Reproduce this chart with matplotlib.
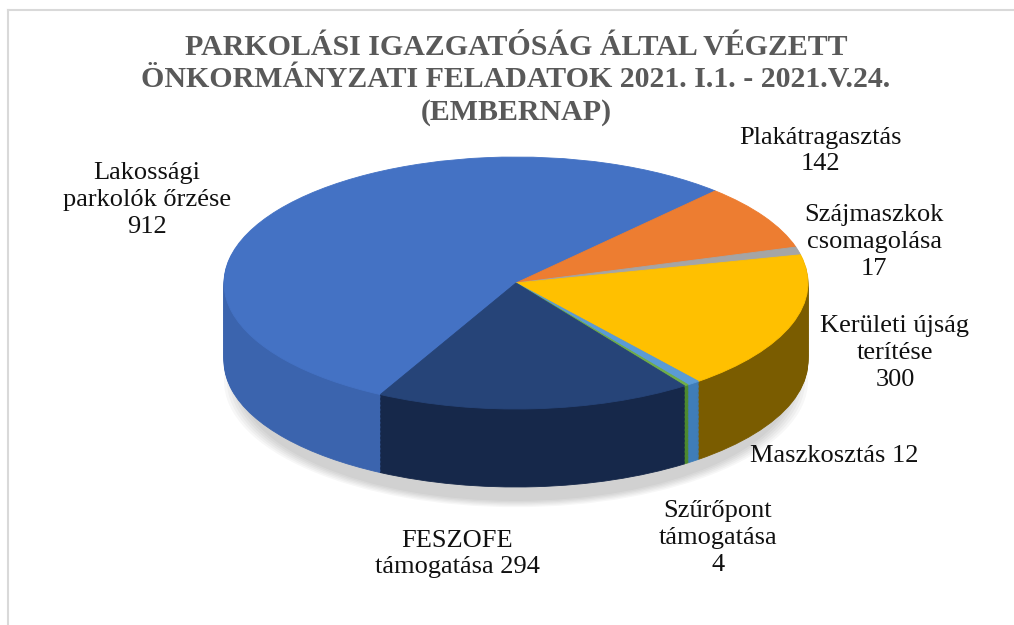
import matplotlib
matplotlib.use("Agg")
import matplotlib.pyplot as plt
from matplotlib.lines import Line2D

# ---- data ----
categories = ["Lakossági\nparkolók őrzése", "Plakátragasztás", "Szájmaszkok\ncsomagolása",
              "Kerületi újság\nterítése", "Maszkosztás", "Szűrőpont\ntámogatása",
              "FESZOFE\ntámogatása"]
values = [912, 142, 17, 300, 12, 4, 294]
value_sep = ["\n", "\n", "\n", "\n", " ", "\n", " "]
title = ("PARKOLÁSI IGAZGATÓSÁG ÁLTAL VÉGZETT\n"
         "ÖNKORMÁNYZATI FELADATOK 2021. I.1. - 2021.V.24.\n"
         "(EMBERNAP)")

# ---- styles ----
top_colors = ["#4472C4", "#ED7D31", "#A5A5A5", "#FFC000", "#5B9BD5", "#70AD47", "#264478"]
side_colors = ["#3B64AE", "#B65E22", "#7F7F7F", "#7A5C00", "#3F7DB8", "#4E8A2E", "#16284A"]
label_pos_px = [(147, 200), (820, 151), (874, 242), (895, 353), (834, 456), (718, 538), (457, 554)]

W, H = 1014, 625
fig = plt.figure(figsize=(W / 100, H / 100), dpi=100)
fig.patch.set_facecolor("white")
ax = fig.add_axes([0, 0, 1, 1])

# pie geometry in pixels
cx, cy = 516, 283          # centre of top ellipse
a_px, b_px = 292, 126      # semi axes
depth_px = 78

total = sum(values)
boundary = 47.0            # angle where first slice ends (deg)
start = boundary + 360.0 * values[0] / total
depth = depth_px / b_px

# soft shadow below the front of the pie
for i in range(6):
    ax.pie([total], colors=["#000000"], center=(0, -depth - 0.16),
           radius=0.95 + 0.01 * i, wedgeprops=dict(linewidth=0, alpha=0.03))

n_layers = 60
for k in range(n_layers):
    off = -depth + depth * k / n_layers
    ws, _ = ax.pie(values, colors=side_colors, startangle=start, counterclock=False,
                   center=(0, off), radius=1.0, wedgeprops=dict(linewidth=0.6))
    for w in ws:
        w.set_edgecolor(w.get_facecolor())

wedges, _ = ax.pie(values, colors=top_colors, startangle=start, counterclock=False,
                   center=(0, 0), radius=1.0, wedgeprops=dict(linewidth=0.6))
for w in wedges:
    w.set_edgecolor(w.get_facecolor())

ax.set_aspect("auto")
ax.set_xlim(-cx / a_px, (W - cx) / a_px)
ax.set_ylim(-(H - cy) / b_px, cy / b_px)
ax.axis("off")

# labels
for cat, val, sep, (px, py) in zip(categories, values, value_sep, label_pos_px):
    fig.text(px / W, 1 - py / H, f"{cat}{sep}{val}", ha="center", va="center",
             fontsize=19, family="Liberation Serif", color="#111111", linespacing=1.28)

fig.text(516 / W, 1 - 80 / H, title, ha="center", va="center", fontsize=21.5,
         fontweight="bold", family="Liberation Serif", color="#595959", linespacing=1.25)

# chart area border (top and left visible)
fig.add_artist(Line2D([7.5 / W, 1], [1 - 9.5 / H, 1 - 9.5 / H], transform=fig.transFigure,
                      color="#D9D9D9", lw=1.5))
fig.add_artist(Line2D([7.5 / W, 7.5 / W], [0, 1 - 9.5 / H], transform=fig.transFigure,
                      color="#D9D9D9", lw=1.5))

fig.savefig("out.png", dpi=100)
